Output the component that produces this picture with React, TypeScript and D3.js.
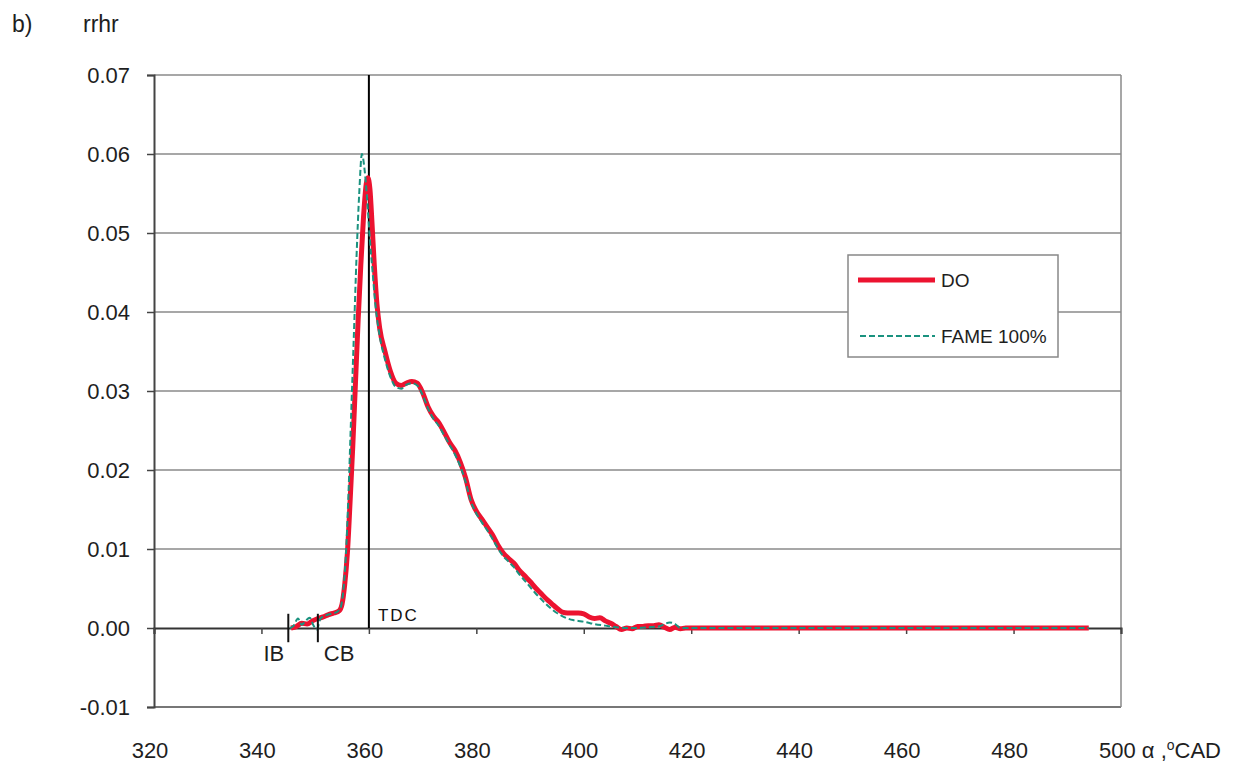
import React, { useRef, useEffect } from 'react';
import * as d3 from 'd3';

// crank angle (deg) / rate of heat release
const doAngle = [345.5, 346.5, 347.5, 348.5, 349.5, 350.5, 351.5, 352.5, 353.5, 354.5, 355, 355.5, 356, 356.5, 357, 357.5, 358, 358.5, 359, 359.5, 359.8, 360.2, 360.6, 361, 361.5, 362, 363, 364, 365, 366, 367, 368, 369, 370, 371, 372, 373, 374, 375, 376, 377, 378, 379, 380, 381, 382, 383, 384, 385, 386, 387, 388, 389, 390, 391, 392, 393, 394, 395, 396, 397, 398, 399, 400, 401, 402, 403, 404, 405, 406, 407, 408, 409, 410, 411, 412, 413, 414, 415, 416, 417, 418, 419, 440, 470, 494];
const doRhr = [0, 0.0002, 0.0006, 0.0005, 0.0009, 0.0012, 0.0014, 0.0017, 0.0019, 0.0022, 0.003, 0.0055, 0.0095, 0.016, 0.023, 0.031, 0.039, 0.046, 0.052, 0.0562, 0.057, 0.0555, 0.051, 0.046, 0.041, 0.038, 0.035, 0.0325, 0.031, 0.0307, 0.031, 0.0312, 0.031, 0.0298, 0.028, 0.0268, 0.026, 0.0248, 0.0235, 0.0225, 0.021, 0.019, 0.0163, 0.0148, 0.0138, 0.0128, 0.0118, 0.0105, 0.0095, 0.0088, 0.0082, 0.0073, 0.0066, 0.0059, 0.0051, 0.0044, 0.0037, 0.0031, 0.0025, 0.002, 0.0019, 0.0019, 0.0019, 0.0018, 0.0014, 0.0012, 0.0013, 0.0009, 0.0006, 0.0002, -0.0002, 0, -0.0001, 0.0002, 0.0002, 0.0003, 0.0003, 0.0004, 0.0001, -0.0002, 0.0001, -0.0001, 0, 0, 0, 0];

const fameAngle = [345.3, 346, 346.8, 347.5, 348.2, 349, 349.7, 350.3, 351, 352, 353, 354, 354.7, 355.2, 355.7, 356.2, 356.7, 357.2, 357.7, 358.2, 358.7, 359.2, 359.7, 360.2, 360.7, 361.2, 362, 363, 364, 365, 366, 367, 368, 369, 370, 371, 372, 373, 374, 375, 376, 377, 378, 379, 380, 381, 382, 383, 384, 385, 386, 387, 388, 389, 390, 391, 392, 393, 394, 395, 396, 397, 398, 399, 400, 402, 404, 406, 408, 410, 412, 414, 416, 417, 418, 440, 470, 494];
const fameRhr = [0, 0.0003, 0.0012, 0.0004, 0.0009, 0.0013, 0.0003, -0.0002, 0.0012, 0.0016, 0.0018, 0.002, 0.0025, 0.0045, 0.009, 0.017, 0.027, 0.037, 0.047, 0.055, 0.06, 0.058, 0.054, 0.049, 0.045, 0.041, 0.037, 0.034, 0.0318, 0.0305, 0.0303, 0.0308, 0.031, 0.0307, 0.0295, 0.0278, 0.0265, 0.0256, 0.0244, 0.0232, 0.022, 0.0205, 0.0185, 0.016, 0.0145, 0.0134, 0.0124, 0.0113, 0.0101, 0.0091, 0.0084, 0.0077, 0.0068, 0.006, 0.0052, 0.0044, 0.0037, 0.003, 0.0024, 0.0019, 0.0015, 0.0012, 0.001, 0.0009, 0.0008, 0.0005, 0.0003, 0.0001, 0, 0, 0.0001, 0.0002, 0.0007, 0.0005, 0, 0, 0, 0];

const xTicks = [320, 340, 360, 380, 400, 420, 440, 460, 480];
const yTicks = [-0.01, 0, 0.01, 0.02, 0.03, 0.04, 0.05, 0.06, 0.07];
const markers = [
  { label: 'IB', angle: 345 },
  { label: 'CB', angle: 350.5 },
];
const tdcAngle = 360;

const FONT = '"Liberation Sans", Arial, sans-serif';
const RED = '#ec1330';
const TEAL = '#1a927f';
const INK = '#1e1e1e';

const App = () => {
  const svgRef = useRef<SVGSVGElement>(null);

  useEffect(() => {
    const root = d3.select(svgRef.current);
    root.selectAll('*').remove();

    const W = 1238, H = 764;
    const left = 154, right = 1121, top = 75, bottom = 707;

    const x = d3.scaleLinear().domain([320, 500]).range([left, right]);
    const y = d3.scaleLinear().domain([-0.01, 0.07]).range([bottom, top]);

    root.attr('width', W).attr('height', H);
    root.append('rect').attr('width', W).attr('height', H).attr('fill', '#fff');

    // horizontal grid lines
    root.append('g')
      .selectAll('line')
      .data(yTicks.filter(d => d !== 0 && d !== -0.01))
      .join('line')
      .attr('x1', left).attr('x2', right)
      .attr('y1', d => y(d)).attr('y2', d => y(d))
      .attr('stroke', '#8a8a8a')
      .attr('stroke-width', 1.5);

    // plot frame
    root.append('line').attr('x1', left).attr('x2', right).attr('y1', bottom).attr('y2', bottom)
      .attr('stroke', '#777').attr('stroke-width', 2);
    root.append('line').attr('x1', right).attr('x2', right).attr('y1', top).attr('y2', bottom)
      .attr('stroke', '#8a8a8a').attr('stroke-width', 1.5);

    // y axis
    const fmt = d3.format('.2f');
    const yAxis = root.append('g')
      .attr('transform', `translate(${left},0)`)
      .call(d3.axisLeft(y).tickValues(yTicks).tickSize(7).tickPadding(17).tickFormat(d => fmt(d as number).replace('\u2212', '-')));
    yAxis.select('.domain').attr('stroke', '#444').attr('stroke-width', 2);
    yAxis.selectAll('line').attr('stroke', '#444').attr('stroke-width', 1.5);
    yAxis.selectAll('text')
      .style('font-family', FONT).style('font-size', '22px').attr('fill', INK)
      .attr('dy', '0.36em');

    // zero line with x ticks
    const xAxis = root.append('g')
      .attr('transform', `translate(0,${y(0)})`)
      .call(d3.axisBottom(x).tickValues([...xTicks, 500]).tickSize(6).tickFormat(() => ''));
    xAxis.select('.domain').attr('stroke', '#333').attr('stroke-width', 2);
    xAxis.selectAll('line').attr('stroke', '#444').attr('stroke-width', 1.5);

    // x tick labels at the bottom
    root.append('g')
      .selectAll('text')
      .data(xTicks)
      .join('text')
      .attr('x', d => x(d) - 4)
      .attr('y', 758)
      .attr('text-anchor', 'middle')
      .style('font-family', FONT).style('font-size', '22px').attr('fill', INK)
      .text(d => d);

    const last = root.append('text')
      .attr('x', x(500) - 22)
      .attr('y', 758)
      .style('font-family', FONT).style('font-size', '22px').attr('fill', INK);
    last.append('tspan').text('500 α ,');
    last.append('tspan').attr('dy', -8).style('font-size', '14px').text('o');
    last.append('tspan').attr('dy', 8).text('CAD');

    // TDC line
    root.append('line')
      .attr('x1', x(tdcAngle)).attr('x2', x(tdcAngle))
      .attr('y1', top).attr('y2', y(0))
      .attr('stroke', '#000').attr('stroke-width', 2);
    root.append('text')
      .attr('x', x(tdcAngle) + 9).attr('y', y(0) - 7)
      .style('font-family', FONT).style('font-size', '17px').style('letter-spacing', '2px')
      .attr('fill', '#111').text('TDC');

    // curves
    const line = d3.line<[number, number]>()
      .x(d => x(d[0]))
      .y(d => y(d[1]))
      .curve(d3.curveMonotoneX);

    const doPts = doAngle.map((a, i) => [a, doRhr[i]] as [number, number]);
    const famePts = fameAngle.map((a, i) => [a, fameRhr[i]] as [number, number]);

    root.append('path')
      .datum(doPts)
      .attr('fill', 'none')
      .attr('stroke', RED)
      .attr('stroke-width', 5)
      .attr('stroke-linejoin', 'round')
      .attr('d', line);

    root.append('path')
      .datum(famePts)
      .attr('fill', 'none')
      .attr('stroke', TEAL)
      .attr('stroke-width', 2)
      .attr('stroke-dasharray', '6,3')
      .attr('d', line);

    // IB / CB markers
    const mk = root.append('g');
    mk.selectAll('line')
      .data(markers)
      .join('line')
      .attr('x1', d => x(d.angle)).attr('x2', d => x(d.angle))
      .attr('y1', y(0.0018)).attr('y2', y(-0.0018))
      .attr('stroke', '#111').attr('stroke-width', 2);
    mk.selectAll('text')
      .data(markers)
      .join('text')
      .attr('x', d => d.label === 'IB' ? x(d.angle) - 4 : x(d.angle) + 6)
      .attr('y', 661)
      .attr('text-anchor', d => d.label === 'IB' ? 'end' : 'start')
      .style('font-family', FONT).style('font-size', '22px').attr('fill', INK)
      .text(d => d.label);

    // legend
    const lg = root.append('g');
    lg.append('rect')
      .attr('x', 848).attr('y', 255).attr('width', 210).attr('height', 102)
      .attr('fill', '#fff').attr('stroke', '#888').attr('stroke-width', 1.5);
    lg.append('line').attr('x1', 858).attr('x2', 935).attr('y1', 280).attr('y2', 280)
      .attr('stroke', RED).attr('stroke-width', 5);
    lg.append('line').attr('x1', 860).attr('x2', 935).attr('y1', 336).attr('y2', 336)
      .attr('stroke', TEAL).attr('stroke-width', 2).attr('stroke-dasharray', '6,3');
    lg.append('text').attr('x', 941).attr('y', 287)
      .style('font-family', FONT).style('font-size', '19px').attr('fill', INK).text('DO');
    lg.append('text').attr('x', 941).attr('y', 343)
      .style('font-family', FONT).style('font-size', '19px').attr('fill', INK).text('FAME 100%');

    // titles
    root.append('text').attr('x', 12).attr('y', 32)
      .style('font-family', FONT).style('font-size', '23px').attr('fill', INK).text('b)');
    root.append('text').attr('x', 83).attr('y', 32)
      .style('font-family', FONT).style('font-size', '23px').attr('fill', INK).text('rrhr');
  }, []);

  return (
    <div style={{ position: 'absolute', left: 0, top: 0 }}>
      <svg ref={svgRef} style={{ display: 'block' }}></svg>
    </div>
  );
};

export default App;
